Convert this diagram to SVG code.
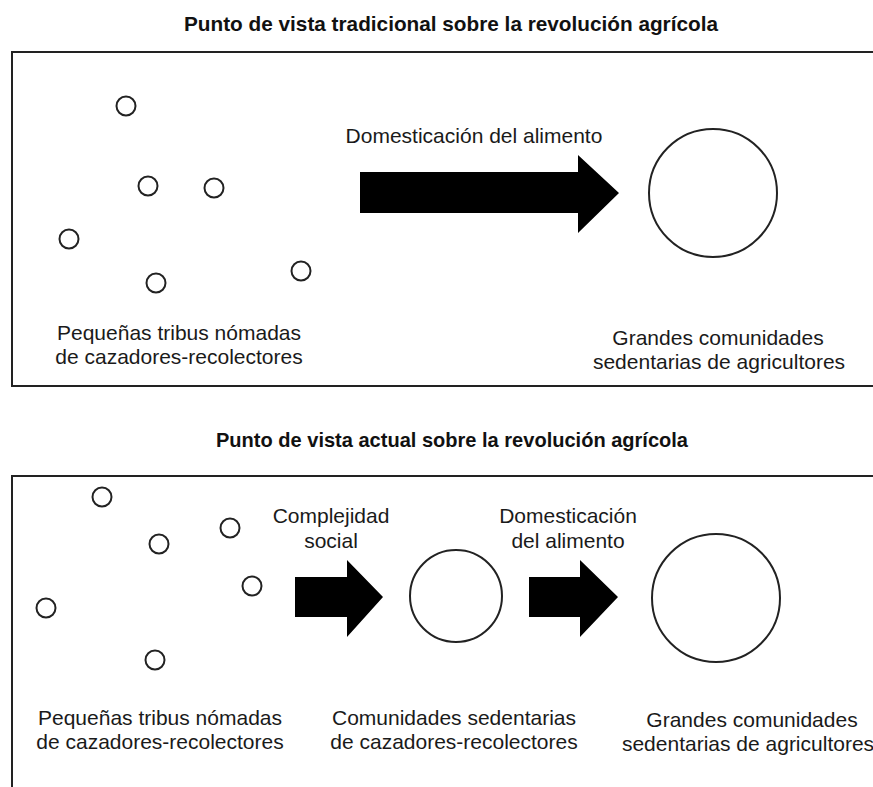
<svg xmlns="http://www.w3.org/2000/svg" width="873" height="787" viewBox="0 0 873 787">
  <style>
    .frame { fill: none; stroke: #222; stroke-width: 2; }
    .dot { fill: #fff; stroke: #222; stroke-width: 2; }
    .ring { fill: #fff; stroke: #222; stroke-width: 2; }
    .arrow { fill: #000; }
    .title { font-family: "Liberation Sans", Arial, sans-serif; font-weight: bold; font-size: 21px; fill: #111; text-anchor: middle; }
    .label { font-family: "Liberation Sans", Arial, sans-serif; font-size: 21px; fill: #1a1a1a; text-anchor: middle; }
  </style>
  <rect width="873" height="787" fill="#fff"/>

  <!-- Panel 1: traditional view -->
  <text class="title" x="451" y="31" textLength="534" lengthAdjust="spacingAndGlyphs">Punto de vista tradicional sobre la revolución agrícola</text>
  <rect class="frame" x="12" y="52" width="880" height="334"/>

  <g id="tribes-top">
    <circle class="dot" cx="126" cy="106" r="9.5"/>
    <circle class="dot" cx="148" cy="186" r="9.5"/>
    <circle class="dot" cx="214" cy="188" r="9.5"/>
    <circle class="dot" cx="69" cy="239" r="9.5"/>
    <circle class="dot" cx="156" cy="283" r="9.5"/>
    <circle class="dot" cx="301" cy="271" r="9.5"/>
    <text class="label" x="179" y="340">Pequeñas tribus nómadas</text>
    <text class="label" x="179" y="364">de cazadores-recolectores</text>
  </g>

  <g id="farmers-top">
    <circle class="ring" cx="713" cy="193" r="64"/>
    <text class="label" x="718" y="345">Grandes comunidades</text>
    <text class="label" x="719" y="369">sedentarias de agricultores</text>
  </g>

  <!-- Panel 2: current view -->
  <text class="title" x="452" y="447" textLength="472" lengthAdjust="spacingAndGlyphs">Punto de vista actual sobre la revolución agrícola</text>
  <rect class="frame" x="12" y="476" width="880" height="340"/>

  <g id="tribes-bottom">
    <circle class="dot" cx="102" cy="497" r="9.5"/>
    <circle class="dot" cx="159" cy="544" r="9.5"/>
    <circle class="dot" cx="230" cy="528" r="9.5"/>
    <circle class="dot" cx="252" cy="586" r="9.5"/>
    <circle class="dot" cx="46" cy="608" r="9.5"/>
    <circle class="dot" cx="155" cy="660" r="9.5"/>
    <text class="label" x="160" y="725">Pequeñas tribus nómadas</text>
    <text class="label" x="160" y="749">de cazadores-recolectores</text>
  </g>

  <g id="hunters-settled">
    <circle class="ring" cx="456" cy="596" r="46"/>
    <text class="label" x="454" y="725">Comunidades sedentarias</text>
    <text class="label" x="454" y="749">de cazadores-recolectores</text>
  </g>

  <g id="farmers-bottom">
    <circle class="ring" cx="716" cy="598" r="64"/>
    <text class="label" x="752" y="727">Grandes comunidades</text>
    <text class="label" x="748" y="751">sedentarias de agricultores</text>
  </g>

  <!-- Transition arrows -->
  <g id="connectors">
    <g id="domestication-top">
      <polygon class="arrow" points="360,172 578,172 578,155 619,193 578,233 578,213 360,213"/>
      <text class="label" x="474" y="143">Domesticación del alimento</text>
    </g>
    <g id="social-complexity">
      <polygon class="arrow" points="295,577 347,577 347,560 383,597 347,637 347,617 295,617"/>
      <text class="label" x="331" y="523">Complejidad</text>
      <text class="label" x="331" y="548">social</text>
    </g>
    <g id="domestication-bottom">
      <polygon class="arrow" points="529,577 580,577 580,560 618,597 580,637 580,617 529,617"/>
      <text class="label" x="568" y="523">Domesticación</text>
      <text class="label" x="568" y="548">del alimento</text>
    </g>
  </g>
</svg>
